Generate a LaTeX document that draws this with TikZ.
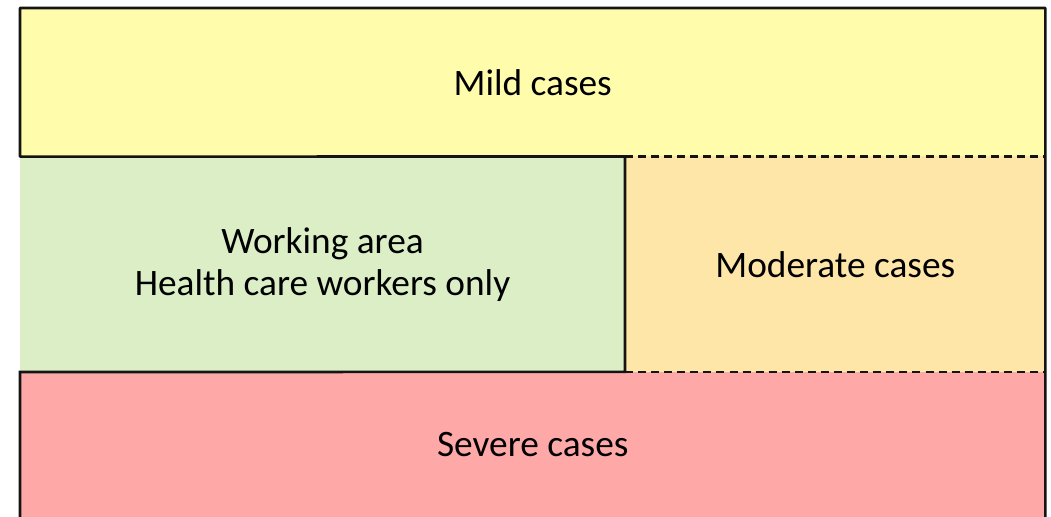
\documentclass[tikz,border=0pt]{standalone}
\usepackage{fontspec}
\setmainfont{Carlito}
\definecolor{mildc}{HTML}{FFFDAB}
\definecolor{workc}{HTML}{DBEEC6}
\definecolor{modc}{HTML}{FEE6A9}
\definecolor{sevc}{HTML}{FFA8A8}
\definecolor{linec}{HTML}{141414}
\begin{document}
\begin{tikzpicture}[x=0.75pt,y=-0.75pt,
  area/.style={inner sep=0pt, outer sep=0pt, align=center, anchor=north west,
    font=\fontsize{28}{31.5}\selectfont},
  edge/.style={draw=linec, line width=1.9pt},
  dashedge/.style={edge, dash pattern=on 6pt off 3.8pt}]
\useasboundingbox (0,0) rectangle (1051,517);
\clip (0,0) rectangle (1051,517);
\node[area, fill=mildc, minimum width=769.1pt, minimum height=111.4pt] (mild) at (20,8) {Mild cases};
\node[area, fill=workc, minimum width=453.75pt, minimum height=161.6pt] (work) at (20,156.5) {Working area\\Health care workers only};
\node[area, fill=modc, minimum width=315.4pt, minimum height=161.6pt] (mod) at (625,156.5) {Moderate cases};
\node[area, fill=sevc, minimum width=769.1pt, minimum height=109.5pt] (sev) at (20,372) {Severe cases};
\draw[edge, line join=round] (work.north east) -- (mild.south west) -- (mild.north west) -- (mild.north east) -- (sev.south east);
\draw[edge] (mod.north west) -- (mod.south west) -- (sev.north west) -- (sev.south west);
\draw[dashedge] (mod.north west) -- (mod.north east);
\draw[dashedge] (mod.south west) -- (mod.south east);
\end{tikzpicture}
\end{document}
